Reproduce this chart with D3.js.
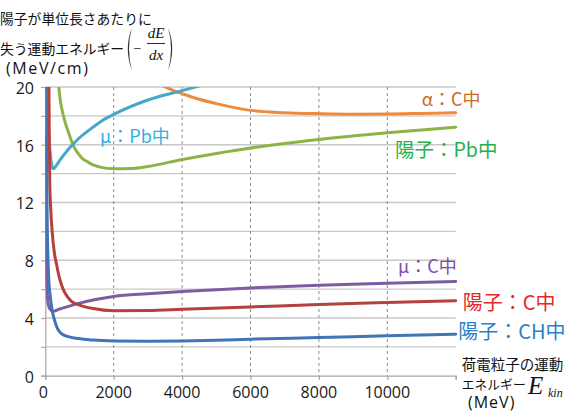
<!DOCTYPE html>
<html><head><meta charset="utf-8">
<script src="https://cdn.jsdelivr.net/npm/d3@7"></script>
<style>body{margin:0;background:#fff}svg{display:block}</style>
</head><body>
<svg id="c" width="573" height="418"></svg>
<script>
// ---- data ----
const xTickValues = [0, 2000, 4000, 6000, 8000, 10000];
const yLabelValues = [0, 4, 8, 12, 16, 20];
const yGridValues = [2, 4, 6, 8, 10, 12, 14, 16, 18, 20];

// proton in CH (MeV, MeV/cm)
const protonCH_E = [28, 35, 45, 60, 80, 108, 140, 176, 220, 275, 350, 470, 650, 960, 1400, 2000, 3000, 4000, 5000, 6000, 8000, 10000, 12000];
const protonCH_V = [20.5, 16, 13, 10, 8, 6.4, 5.6, 4.9, 4.3, 3.8, 3.3, 2.92, 2.72, 2.57, 2.47, 2.41, 2.39, 2.41, 2.46, 2.53, 2.64, 2.76, 2.87];
// proton in C
const protonC_E = [105, 115, 130, 160, 200, 260, 330, 420, 520, 640, 765, 960, 1400, 2000, 3000, 4000, 6000, 8000, 10000, 12000];
const protonC_V = [20.5, 17, 13.5, 11.5, 10, 8.6, 7.7, 6.7, 6.0, 5.5, 5.15, 4.93, 4.65, 4.5, 4.52, 4.6, 4.76, 4.93, 5.07, 5.2];
// muon in C
const muonC_E = [10, 20, 35, 59, 90, 129, 225, 400, 600, 1000, 2000, 3000, 4000, 6000, 8000, 10000, 12000];
const muonC_V = [16.6, 11, 7.5, 5.6, 4.9, 4.65, 4.47, 4.6, 4.75, 5.03, 5.49, 5.68, 5.83, 6.08, 6.27, 6.4, 6.52];
// muon in Pb
const muonPb_E = [28, 80, 130, 180, 226, 300, 440, 700, 960, 1300, 1613, 2000, 3000, 4000, 4700];
const muonPb_V = [20.5, 17.5, 15.8, 14.7, 14.33, 14.5, 14.97, 15.75, 16.4, 17.05, 17.6, 18.1, 19.1, 19.75, 20.2];
// proton in Pb
const protonPb_E = [385, 450, 519, 600, 686, 775, 861, 960, 1100, 1214, 1400, 1604, 2000, 2500, 3000, 4000, 5000, 6000, 8000, 10000, 12000];
const protonPb_V = [20.2, 18.9, 18.1, 17.4, 16.8, 16.2, 15.75, 15.4, 15.0, 14.85, 14.6, 14.45, 14.33, 14.35, 14.5, 14.98, 15.4, 15.78, 16.37, 16.83, 17.22];
// alpha in C
const alphaC_E = [3250, 3700, 4047, 4500, 5000, 6003, 6970, 8055, 9000, 10050, 11000, 12000];
const alphaC_V = [20.3, 19.8, 19.5, 19.15, 18.85, 18.38, 18.22, 18.15, 18.12, 18.13, 18.17, 18.22];

const seriesNames = ["陽子：CH中", "陽子：C中", "μ：C中", "μ：Pb中", "陽子：Pb中", "α：C中"];

// ---- drawing ----
const svg = d3.select("#c");
const x = d3.scaleLinear().domain([0, 12000]).range([45.3, 455.7]);
const y = d3.scaleLinear().domain([0, 20]).range([375.7, 87]);

const gridG = svg.append("g");
gridG.selectAll("line.h").data(yGridValues).join("line")
  .attr("x1", x(0)).attr("x2", x(12000))
  .attr("y1", d => y(d)).attr("y2", d => y(d))
  .attr("stroke", "#c8c8c8").attr("stroke-width", 1.4);
gridG.selectAll("line.v").data(xTickValues.filter(d => d > 0)).join("line")
  .attr("x1", d => x(d)).attr("x2", d => x(d))
  .attr("y1", y(20)).attr("y2", y(0))
  .attr("stroke", "#8c8c8c").attr("stroke-width", 1).attr("stroke-dasharray", "3,3");

const yAxis = d3.axisLeft(y).tickValues([0].concat(yGridValues)).tickSize(4).tickFormat("");
const yAx = svg.append("g").attr("transform", `translate(${x(0)},0)`).call(yAxis);
const xAxis = d3.axisBottom(x).tickValues(xTickValues.concat([12000])).tickSize(4).tickFormat("");
const xAx = svg.append("g").attr("transform", `translate(0,${y(0)})`).call(xAxis);
[yAx, xAx].forEach(g => {
  g.select(".domain").attr("stroke", "#a6a6a6").attr("stroke-width", 1.2);
  g.selectAll(".tick line").attr("stroke", "#a6a6a6").attr("stroke-width", 1.2);
});

svg.append("g").selectAll("text").data(yLabelValues).join("text")
  .attr("x", 34).attr("y", d => y(d) + 1)
  .attr("text-anchor", "end").attr("dominant-baseline", "central")
  .attr("font-family", "'Open Sans', sans-serif").attr("font-size", 16).attr("fill", "#1a1a1a")
  .text(d => d);
svg.append("g").selectAll("text").data(xTickValues).join("text")
  .attr("x", d => x(d) - (d === 0 ? 2 : 0)).attr("y", 392)
  .attr("text-anchor", "middle").attr("dominant-baseline", "central")
  .attr("font-family", "'Open Sans', sans-serif").attr("font-size", 16).attr("fill", "#1a1a1a")
  .text(d => d);

svg.append("clipPath").attr("id", "plot").append("rect")
  .attr("x", x(0)).attr("y", y(20)).attr("width", x(12000) - x(0) + 2).attr("height", y(0) - y(20));

const series = [
  {E: alphaC_E, V: alphaC_V, color: "#ec8b3d"},
  {E: protonPb_E, V: protonPb_V, color: "#8db347"},
  {E: muonPb_E, V: muonPb_V, color: "#45a9c6"},
  {E: muonC_E, V: muonC_V, color: "#7c5ea0"},
  {E: protonC_E, V: protonC_V, color: "#b5403e"},
  {E: protonCH_E, V: protonCH_V, color: "#4174b8"}
];
const line = d3.line().x(d => x(d[0])).y(d => y(d[1])).curve(d3.curveMonotoneX);
const lg = svg.append("g").attr("clip-path", "url(#plot)");
series.forEach(s => {
  lg.append("path").datum(s.E.map((e, i) => [e, s.V[i]]))
    .attr("d", line).attr("fill", "none")
    .attr("stroke", s.color).attr("stroke-width", 3).attr("stroke-linejoin", "round").attr("stroke-linecap", "round");
});

const cjk = "'Noto Sans CJK JP', sans-serif";
const labelStyle = [
  {x: 458.3, y: 330, size: 20, color: "#2a80c6"},
  {x: 462.7, y: 301.7, size: 20, color: "#e6282a"},
  {x: 398, y: 265, size: 18, color: "#7f4aad"},
  {x: 100, y: 135, size: 18, color: "#31afe0"},
  {x: 395, y: 148, size: 19.5, color: "#25b04b"},
  {x: 421.7, y: 98, size: 18, color: "#c96b28"}
];
svg.append("g").selectAll("text").data(seriesNames).join("text")
  .attr("x", (d, i) => labelStyle[i].x).attr("y", (d, i) => labelStyle[i].y)
  .attr("dominant-baseline", "central")
  .attr("font-family", cjk).attr("font-size", (d, i) => labelStyle[i].size)
  .attr("fill", (d, i) => labelStyle[i].color)
  .text(d => d);

// y-axis title
const tg = svg.append("g").attr("fill", "#111");
tg.append("text").attr("x", 0).attr("y", 18).attr("dominant-baseline", "central")
  .attr("font-family", cjk).attr("font-size", 13.8).text("陽子が単位長さあたりに");
tg.append("text").attr("x", 0).attr("y", 48).attr("dominant-baseline", "central")
  .attr("font-family", cjk).attr("font-size", 13.8).text("失う運動エネルギー");
tg.append("text").attr("x", 6).attr("y", 68).attr("dominant-baseline", "central")
  .attr("font-family", "'Open Sans', sans-serif").attr("font-size", 16).attr("letter-spacing", 1.6).text("(MeV/cm)");
const serif = "'Liberation Serif', serif";
// large bracket delimiters drawn as shapes
tg.append("path").attr("d", "M131.8,28 Q123.8,49 131.8,70 Q126.2,49 131.8,28 Z").attr("fill", "#333");
tg.append("path").attr("d", "M168.2,28 Q176.2,49 168.2,70 Q173.8,49 168.2,28 Z").attr("fill", "#333");
tg.append("text").attr("x", 137.5).attr("y", 48).attr("text-anchor", "middle").attr("dominant-baseline", "central")
  .attr("font-family", serif).attr("font-size", 14).text("−");
tg.append("text").attr("x", 156).attr("y", 38).attr("text-anchor", "middle")
  .attr("font-family", serif).attr("font-style", "italic").attr("font-size", 15).text("dE");
tg.append("line").attr("x1", 147).attr("x2", 165).attr("y1", 43.5).attr("y2", 43.5)
  .attr("stroke", "#111").attr("stroke-width", 0.9);
tg.append("text").attr("x", 156).attr("y", 60).attr("text-anchor", "middle")
  .attr("font-family", serif).attr("font-style", "italic").attr("font-size", 15).text("dx");

// x-axis title
tg.append("text").attr("x", 461.7).attr("y", 363).attr("dominant-baseline", "central")
  .attr("font-family", cjk).attr("font-size", 14.5).text("荷電粒子の運動");
tg.append("text").attr("x", 461.7).attr("y", 383).attr("dominant-baseline", "central")
  .attr("font-family", cjk).attr("font-size", 12.8).text("エネルギー");
tg.append("text").attr("x", 528).attr("y", 394).attr("font-family", serif).attr("font-style", "italic")
  .attr("font-size", 25).text("E");
tg.append("text").attr("x", 548).attr("y", 397).attr("font-family", serif).attr("font-style", "italic")
  .attr("font-size", 12).text("kin");
tg.append("text").attr("x", 468).attr("y", 402).attr("dominant-baseline", "central")
  .attr("font-family", "'Open Sans', sans-serif").attr("font-size", 16).attr("letter-spacing", 1).text("(MeV)");
</script>
</body></html>
